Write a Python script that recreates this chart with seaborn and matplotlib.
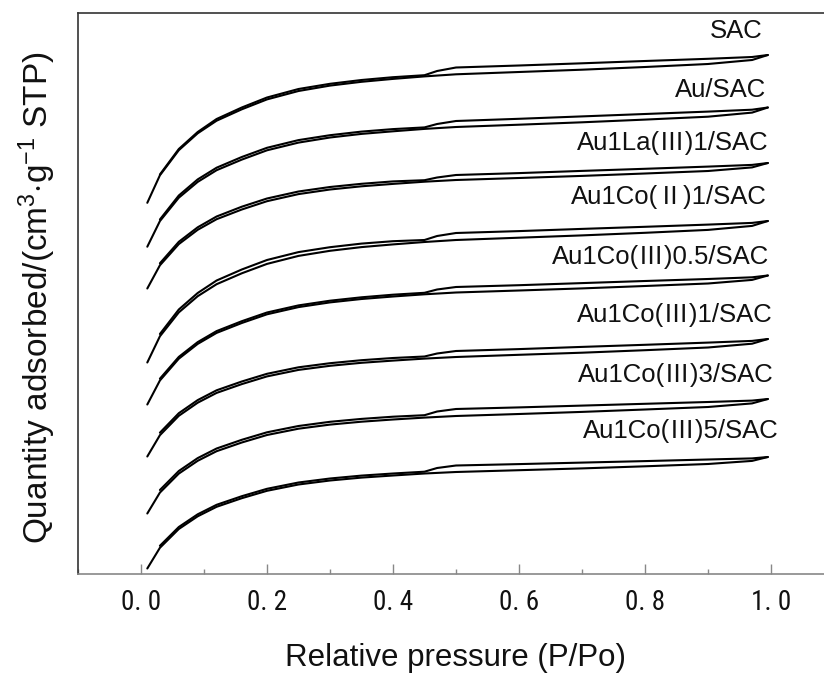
import numpy as np
import pandas as pd
import seaborn as sns
import matplotlib
matplotlib.use("Agg")
import matplotlib.pyplot as plt
from matplotlib import font_manager
from matplotlib.ticker import MultipleLocator, FixedLocator

# ---------------- data ----------------
sample_names = ["SAC", "Au/SAC", "Au1La(Ⅲ)1/SAC", "Au1Co(Ⅱ)1/SAC",
                "Au1Co(Ⅲ)0.5/SAC", "Au1Co(Ⅲ)1/SAC", "Au1Co(Ⅲ)3/SAC",
                "Au1Co(Ⅲ)5/SAC"]

p_ads = [0.01, 0.03, 0.06, 0.09, 0.12, 0.16, 0.2, 0.25, 0.3, 0.35, 0.4, 0.45,
         0.5, 0.6, 0.7, 0.8, 0.9, 0.97, 0.995]
p_des = [0.995, 0.97, 0.9, 0.8, 0.7, 0.6, 0.5, 0.47, 0.45, 0.4, 0.35, 0.3,
         0.25, 0.2, 0.16, 0.12, 0.09, 0.06, 0.03]

# quantity adsorbed (arbitrary, offset-stacked units)
ads_SAC = [371.2, 398.7, 423.8, 440.7, 453.3, 464.7, 474.6, 483.0, 488.4, 492.2, 495.1,
           497.6, 499.7, 502.0, 504.3, 507.0, 510.0, 514.0, 519.0]
des_SAC = [519.0, 517.0, 515.2, 513.0, 510.7, 508.5, 506.5, 503.0, 498.8, 496.8, 494.0,
           490.2, 485.0, 476.5, 466.5, 455.0, 442.0, 425.0, 399.5]

ads_Au = [327.3, 352.9, 376.3, 392.1, 403.8, 414.4, 423.7, 431.4, 436.5, 440.1, 442.7,
          445.1, 447.0, 449.3, 451.7, 454.4, 457.3, 461.4, 466.5]
des_Au = [466.5, 464.3, 462.4, 460.0, 457.6, 455.2, 453.0, 450.0, 446.6, 444.9, 442.4,
          438.8, 433.9, 426.2, 417.0, 406.3, 394.6, 378.5, 354.5]

ads_La1 = [285.5, 308.7, 329.9, 344.2, 354.8, 364.5, 372.8, 379.9, 384.5, 387.7, 390.1,
           392.3, 394.0, 396.0, 398.1, 400.5, 403.0, 406.6, 411.0]
des_La1 = [411.0, 409.1, 407.4, 405.2, 403.1, 400.9, 399.0, 396.5, 393.8, 392.6, 390.2,
           387.0, 382.5, 375.5, 367.3, 357.5, 346.7, 332.2, 310.7]

ads_Co2_1 = [211.5, 237.7, 261.6, 277.8, 289.8, 300.7, 310.1, 318.1, 323.2, 326.9, 329.6,
             332.0, 334.0, 336.3, 338.6, 341.2, 344.1, 348.1, 353.0]
des_Co2_1 = [353.0, 351.1, 349.4, 347.2, 345.1, 342.9, 341.0, 338.0, 334.0, 332.8, 330.4,
             326.8, 321.9, 314.0, 304.5, 293.5, 281.0, 264.5, 240.0]

ads_Co3_05 = [169.5, 193.5, 215.3, 230.1, 241.1, 251.0, 259.7, 266.9, 271.6, 275.0, 277.5,
              279.7, 281.5, 283.5, 285.6, 288.0, 290.5, 294.1, 298.5]
des_Co3_05 = [298.5, 296.7, 295.0, 293.0, 290.9, 288.8, 287.0, 284.5, 281.2, 279.3, 276.7,
              273.3, 268.6, 261.5, 252.8, 242.9, 231.9, 217.1, 195.3]

ads_Co3_1 = [117.5, 138.8, 158.2, 171.3, 181.1, 189.9, 197.6, 204.1, 208.2, 211.2, 213.4,
             215.4, 217.0, 219.2, 221.3, 223.8, 226.5, 230.3, 235.0]
des_Co3_1 = [235.0, 233.1, 231.4, 229.2, 227.1, 224.9, 223.0, 220.5, 217.5, 216.0, 213.8,
             210.8, 206.7, 200.2, 192.5, 183.7, 173.9, 160.8, 141.3]

ads_Co3_3 = [60.5, 81.4, 100.4, 113.2, 122.8, 131.5, 139.0, 145.3, 149.4, 152.3, 154.5,
             156.4, 158.0, 160.0, 162.1, 164.5, 167.0, 170.6, 175.0]
des_Co3_3 = [175.0, 173.4, 172.0, 170.2, 168.4, 166.6, 165.0, 162.5, 158.8, 157.3, 155.1,
             152.2, 148.0, 141.7, 134.2, 125.5, 115.9, 103.0, 84.0]

ads_Co3_5 = [5.5, 26.2, 45.0, 57.7, 67.2, 75.8, 83.2, 89.5, 93.5, 96.4, 98.5,
             100.5, 102.0, 103.8, 105.6, 107.7, 110.0, 113.1, 117.0]
des_Co3_5 = [117.0, 115.6, 114.5, 112.9, 111.4, 109.9, 108.5, 106.0, 102.3, 100.5, 98.4,
             95.5, 91.5, 85.2, 77.8, 69.2, 59.7, 47.0, 28.2]

ads_all = [ads_SAC, ads_Au, ads_La1, ads_Co2_1, ads_Co3_05, ads_Co3_1, ads_Co3_3, ads_Co3_5]
des_all = [des_SAC, des_Au, des_La1, des_Co2_1, des_Co3_05, des_Co3_1, des_Co3_3, des_Co3_5]

x_ticks = [0.0, 0.2, 0.4, 0.6, 0.8, 1.0]
x_tick_labels = ["0. 0", "0. 2", "0. 4", "0. 6", "0. 8", "1. 0"]

# ---------------- build table ----------------
rows = []
for name, ads, des in zip(sample_names, ads_all, des_all):
    for i, (p, q) in enumerate(zip(p_ads, ads)):
        rows.append(dict(sample=name, branch="ads", order=i, p=p, q=q))
    for i, (p, q) in enumerate(zip(p_des, des)):
        rows.append(dict(sample=name, branch="des", order=i, p=p, q=q))
df = pd.DataFrame(rows)

# ---------------- fonts ----------------
sns.set_theme(style="ticks")
plt.rcParams["font.family"] = ["Liberation Sans", "Noto Sans CJK SC", "DejaVu Sans"]
plt.rcParams["mathtext.fontset"] = "custom"
plt.rcParams["mathtext.rm"] = "Liberation Sans"
plt.rcParams["mathtext.it"] = "Liberation Sans"

narrow_family = None
names = {f.name for f in font_manager.fontManager.ttflist}
for cand in ["Liberation Sans Narrow", "DejaVu Sans Condensed", "Roboto Condensed",
             "Open Sans Condensed", "Noto Sans Condensed"]:
    if cand in names:
        narrow_family = cand
        break
tick_font = dict(family=[narrow_family] if narrow_family else ["Liberation Sans"],
                 size=19.5 if narrow_family else 16)

# ---------------- plot ----------------
fig = plt.figure(figsize=(8.24, 6.80), dpi=100)
ax = fig.add_axes([78 / 824, 106 / 680, 756 / 824, 561 / 680])

for (name, branch), g in df.groupby(["sample", "branch"], sort=False):
    g = g.sort_values("order")
    sns.lineplot(data=g, x="p", y="q", sort=False, estimator=None,
                 color="black", lw=1.5, ax=ax, legend=False)

ax.set_xlim(-0.1, 1.1)
ax.set_ylim(0, 561)

# sample labels (right-aligned near the end of each curve)
label_y = [543, 484, 431, 377, 317, 259, 199, 143]
label_x = [0.986, 0.993, 0.996, 0.994, 0.997, 1.002, 1.005, 1.012]
for name, xx, yy in zip(sample_names, label_x, label_y):
    ax.text(xx, yy, name, ha="right", va="center", fontsize=18.5,
            family=["Liberation Sans", "Noto Sans CJK SC"], color="#111111")

ax.xaxis.set_major_locator(FixedLocator(x_ticks))
ax.set_xticklabels(x_tick_labels, **tick_font)
ax.xaxis.set_minor_locator(MultipleLocator(0.1))
ax.tick_params(axis="x", which="major", direction="in", length=7, width=1,
               color="#888888", pad=11, labelcolor="#111111")
ax.tick_params(axis="x", which="minor", direction="in", length=3.5, width=1,
               color="#888888")
ax.set_yticks([])

for s in ["left", "top"]:
    ax.spines[s].set_color("#333333")
    ax.spines[s].set_linewidth(1.2)
ax.spines["bottom"].set_color("#888888")
ax.spines["bottom"].set_linewidth(1.2)
ax.spines["right"].set_visible(False)

ax.set_xlabel("Relative pressure (P/Po)", fontsize=22.5, color="#111111", va="center")
ax.set_ylabel("Quantity adsorbed/(cm$^{3}$$\\cdot$g$^{-1}$ STP)", fontsize=24,
              color="#111111", va="center")
ax.xaxis.set_label_coords((455 - 78) / 756, -(658 - 574) / 561)
ax.yaxis.set_label_coords(-(78 - 37) / 756, (574 - 298) / 561)

fig.savefig("out.png", dpi=100, facecolor="white")
